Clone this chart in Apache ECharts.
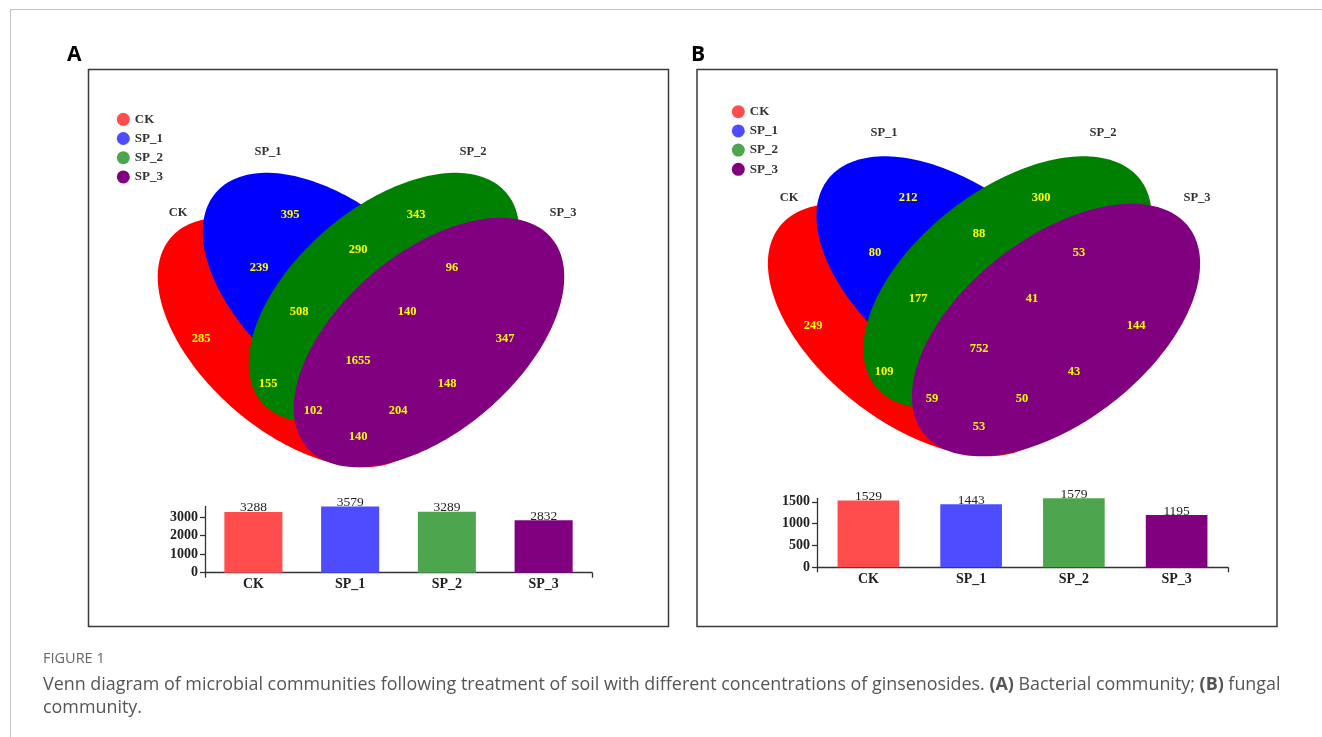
<!DOCTYPE html>
<html>
<head>
<meta charset="utf-8">
<script src="https://cdn.jsdelivr.net/npm/echarts@6/dist/echarts.min.js"></script>
<style>
html,body{margin:0;padding:0;background:#fff;}
#c{width:1322px;height:737px;}
</style>
</head>
<body>
<div id="c"></div>
<script>
// ---------------- data ----------------
const sets = ['CK', 'SP_1', 'SP_2', 'SP_3'];
// Venn regions (order): CK, SP_1, SP_2, SP_3, CK&SP_1, CK&SP_2, CK&SP_3, SP_1&SP_2, SP_1&SP_3, SP_2&SP_3,
// CK&SP_1&SP_2, CK&SP_1&SP_3, CK&SP_2&SP_3, SP_1&SP_2&SP_3, all
const regionCountsA = [285, 395, 343, 347, 239, 155, 140, 290, 148, 96, 508, 204, 102, 140, 1655];
const regionCountsB = [249, 212, 300, 144, 80, 109, 53, 88, 43, 53, 177, 50, 59, 41, 752];
const totalsA = [3288, 3579, 3289, 2832];
const totalsB = [1529, 1443, 1579, 1195];
const tickValuesA = [0, 1000, 2000, 3000];
const tickValuesB = [0, 500, 1000, 1500];

// ---------------- layout (panel-local units) ----------------
const ellipseA = [[205, 273.5, 161, 89, -40.6], [250, 228.5, 161, 89, -40.6], [296, 228.5, 161, 89, 40.6], [341, 273.5, 161, 89, 40.6]];
const ellipseB = [[215, 261, 168, 92, -37.9], [263.5, 213.5, 168, 92, -37.9], [310.5, 213.5, 168, 92, 37.9], [359, 261, 168, 92, 37.9]];
const regionPosA = [[113,270],[202,146],[328,146],[417,270],[171,199],[180,315],[270,368],[270,181],[359,315],[364,199],[211,243],[310,342],[225,342],[319,243],[270,292]];
const regionPosB = [[116,257],[211,129],[344,129],[439,257],[178,184],[187,303],[282,358],[282,165],[377,303],[382,184],[221,230],[325,330],[235,330],[335,230],[282,280]];
const setLabelPosA = [[90,144],[180,83],[385,83],[475,144]];
const setLabelPosB = [[92,129],[187,64],[406,64],[500,129]];

// ---------------- styles ----------------
const vennColors = ['#ff0000', '#0000ff', '#008000', '#800080'];
const softColors = ['#ff4d4d', '#4d4dff', '#4da64d', '#800080'];
const serif = '"Liberation Serif", "Times New Roman", serif';
const sans = '"Open Sans", "Noto Sans", sans-serif';

const chart = echarts.init(document.getElementById('c'), null, {renderer: 'canvas'});

function ellipseRender(params, api) {
  const cx = api.value(0), cy = api.value(1), a = api.value(2), b = api.value(3);
  const ang = api.value(4) * Math.PI / 180;
  const pts = [];
  const n = 180;
  for (let i = 0; i < n; i++) {
    const t = i / n * 2 * Math.PI;
    const x = a * Math.cos(t), y = b * Math.sin(t);
    const xr = cx + x * Math.cos(ang) + y * Math.sin(ang);
    const yr = cy - x * Math.sin(ang) + y * Math.cos(ang);
    pts.push(api.coord([xr, yr]));
  }
  return {type: 'polygon', shape: {points: pts}, style: {fill: api.visual('color')}};
}
function textRender(color, size, texts) {
  return function (params, api) {
    const p = api.coord([api.value(0), api.value(1)]);
    return {
      type: 'text', x: p[0], y: p[1],
      style: {text: String(texts[params.dataIndex]), fill: color, font: 'bold ' + size + 'px ' + serif,
        align: 'center', verticalAlign: 'middle'}
    };
  };
}

const series = [];
[[ellipseA, 0], [ellipseB, 1]].forEach(function (pair) {
  const geo = pair[0], idx = pair[1];
  sets.forEach(function (s, i) {
    series.push({
      name: s, type: 'custom', coordinateSystem: 'cartesian2d', xAxisIndex: idx, yAxisIndex: idx,
      clip: false, silent: true, itemStyle: {color: vennColors[i]},
      data: [geo[i]], renderItem: ellipseRender, z: 2 + i
    });
  });
});
series.push({type: 'custom', xAxisIndex: 0, yAxisIndex: 0, silent: true, z: 10,
  data: regionPosA, renderItem: textRender('#ffff00', 12.5, regionCountsA)});
series.push({type: 'custom', xAxisIndex: 1, yAxisIndex: 1, silent: true, z: 10,
  data: regionPosB, renderItem: textRender('#ffff00', 12.5, regionCountsB)});
series.push({type: 'custom', xAxisIndex: 0, yAxisIndex: 0, silent: true, z: 10,
  data: setLabelPosA, renderItem: textRender('#333', 12.5, sets)});
series.push({type: 'custom', xAxisIndex: 1, yAxisIndex: 1, silent: true, z: 10,
  data: setLabelPosB, renderItem: textRender('#333', 12.5, sets)});

function barSeries(vals, axisIdx) {
  return {
    type: 'bar', xAxisIndex: axisIdx, yAxisIndex: axisIdx, barWidth: '60%', silent: true,
    data: vals.map((v, i) => ({value: v, itemStyle: {color: softColors[i]}})),
    label: {show: true, position: 'top', distance: -3, fontFamily: serif, fontSize: 13.5, color: '#222'}
  };
}
series.push(barSeries(totalsA, 2));
series.push(barSeries(totalsB, 3));

const axisLineStyle = {color: '#333', width: 1.3};
function vennX(g) { return {type: 'value', gridIndex: g, min: 0, max: 580, show: false}; }
function vennY(g) { return {type: 'value', gridIndex: g, min: 0, max: 558, inverse: true, show: false}; }
function catX(g) {
  return {type: 'category', gridIndex: g, data: sets,
    axisLine: {lineStyle: axisLineStyle}, axisTick: {alignWithLabel: true, length: 5, lineStyle: axisLineStyle},
    axisLabel: {fontFamily: serif, fontWeight: 'bold', fontSize: 14, color: '#222', margin: 5}};
}
function endTickX(g) {
  return {type: 'value', gridIndex: g, min: 0, max: 1, interval: 1, position: 'bottom',
    axisLine: {show: false}, axisTick: {show: true, length: 5, lineStyle: axisLineStyle},
    axisLabel: {show: false}, splitLine: {show: false}};
}
function valY(g, ticks) {
  return {type: 'value', gridIndex: g, min: 0, max: 'dataMax', interval: ticks[1] - ticks[0],
    axisLine: {show: true, lineStyle: axisLineStyle}, axisTick: {show: true, length: 5, lineStyle: axisLineStyle},
    splitLine: {show: false},
    axisLabel: {showMaxLabel: false, fontFamily: serif, fontWeight: 'bold', fontSize: 14, color: '#222', margin: 7,
      formatter: function (v) { return ticks.indexOf(v) >= 0 ? String(v) : ''; }}};
}

const legendText = {fontFamily: serif, fontWeight: 'bold', fontSize: 13, color: '#333', lineHeight: 13};
function legendAt(left, top) {
  return {orient: 'vertical', left: left, top: top, itemWidth: 13, itemHeight: 13, itemGap: 6.2, icon: 'circle',
    selectedMode: false, padding: 0, textStyle: legendText,
    data: sets.map((s, i) => ({name: s, itemStyle: {color: softColors[i]}}))};
}

const option = {
  animation: false,
  backgroundColor: '#fff',
  grid: [
    {left: 88, top: 69, width: 580, height: 558},
    {left: 697, top: 69, width: 580, height: 558},
    {left: 205, top: 506.5, width: 387, height: 66.2},
    {left: 817, top: 498.3, width: 411, height: 69}
  ],
  xAxis: [vennX(0), vennX(1), catX(2), catX(3), endTickX(2), endTickX(3)],
  yAxis: [vennY(0), vennY(1), valY(2, tickValuesA), valY(3, tickValuesB)],
  legend: [legendAt(116.8, 112.8), legendAt(731.8, 105.2)],
  series: series,
  graphic: [
    {type: 'line', shape: {x1: 10, y1: 9.5, x2: 1322, y2: 9.5}, style: {stroke: '#c4c4c4', lineWidth: 1}},
    {type: 'line', shape: {x1: 10.5, y1: 9, x2: 10.5, y2: 737}, style: {stroke: '#c4c4c4', lineWidth: 1}},
    {type: 'rect', shape: {x: 88.5, y: 69.5, width: 580, height: 557}, style: {fill: null, stroke: '#3a3a3a', lineWidth: 1.5}, z: 0},
    {type: 'rect', shape: {x: 697, y: 69.5, width: 580, height: 557}, style: {fill: null, stroke: '#3a3a3a', lineWidth: 1.5}, z: 0},
    {type: 'text', x: 67, y: 55, style: {text: 'A', font: 'bold 21px ' + sans, fill: '#000', verticalAlign: 'middle'}},
    {type: 'text', x: 691, y: 55, style: {text: 'B', font: 'bold 21px ' + sans, fill: '#000', verticalAlign: 'middle'}},
    {type: 'text', x: 43, y: 659, style: {text: 'FIGURE 1', font: '14.5px ' + sans, fill: '#666', verticalAlign: 'middle'}},
    {type: 'text', x: 43, y: 673, style: {
      text: 'Venn diagram of microbial communities following treatment of soil with different concentrations of ginsenosides. {b|(A)} Bacterial community; {b|(B)} fungal\ncommunity.',
      font: '17.9px ' + sans, fill: '#555', lineHeight: 23,
      rich: {b: {fontWeight: 'bold', fontSize: 17.9, fontFamily: sans, fill: '#555', color: '#555'}}}}
  ]
};
chart.setOption(option);
</script>
</body>
</html>
